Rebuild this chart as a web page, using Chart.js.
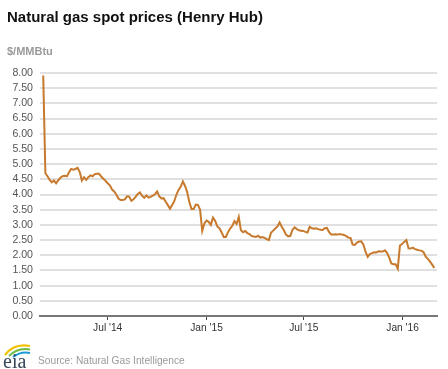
<!DOCTYPE html>
<html>
<head>
<meta charset="utf-8">
<script src="https://cdn.jsdelivr.net/npm/chart.js@4.4.1/dist/chart.umd.min.js"></script>
<style>
  body { margin: 0; background: #fff; }
  #wrap { position: relative; width: 448px; height: 369px; font-family: 'Liberation Sans', Arial, sans-serif; }
  #chart { position: absolute; left: 0; top: 0; }
  .txt { position: absolute; white-space: nowrap; }
</style>
</head>
<body>
<div id="wrap">
  <canvas id="chart" width="448" height="369"></canvas>
  <div class="txt" style="left:7px;top:8px;font-size:15px;line-height:17px;font-weight:bold;color:#111">Natural gas spot prices (Henry Hub)</div>
  <div class="txt" style="left:7px;top:45px;font-size:11px;line-height:13px;font-weight:bold;color:#9a9a9a">$/MMBtu</div>
  <svg class="txt" style="left:1px;top:340px" width="32" height="30" viewBox="0 0 32 30">
    <path d="M4 15 Q13 3 29 6" fill="none" stroke="#f2c200" stroke-width="2.2"/>
    <path d="M8 16 Q17 7 29 9.5" fill="none" stroke="#6dbb45" stroke-width="2"/>
    <path d="M12 17 Q20 11 29 13" fill="none" stroke="#1d9ad6" stroke-width="2"/>
    <text x="2" y="28" font-family="'Liberation Serif', 'DejaVu Serif', serif" font-size="20" fill="#37475a">eia</text>
  </svg>
  <div class="txt" style="left:38px;top:355px;font-size:10.2px;line-height:12px;color:#9a9a9a">Source: Natural Gas Intelligence</div>
</div>
<script>
// Henry Hub spot price, $/MMBtu, one reading every 4 days from the start date
const startDate = '2014-03-03';
const stepDays = 4;
const prices = [
  7.92, 4.70, 4.60, 4.48, 4.40, 4.46, 4.37, 4.47, 4.55, 4.60,
  4.62, 4.60, 4.73, 4.84, 4.82, 4.84, 4.88, 4.74, 4.46, 4.57,
  4.48, 4.57, 4.63, 4.60, 4.67, 4.68, 4.68, 4.59, 4.52, 4.45,
  4.37, 4.30, 4.17, 4.10, 4.00, 3.87, 3.82, 3.82, 3.84, 3.94,
  3.93, 3.79, 3.84, 3.92, 4.02, 4.07, 3.96, 3.89, 3.97, 3.90,
  3.92, 3.96, 4.01, 4.10, 3.94, 3.87, 3.88, 3.76, 3.65, 3.53,
  3.65, 3.78, 4.00, 4.15, 4.26, 4.43, 4.28, 4.08, 3.75, 3.52,
  3.52, 3.67, 3.66, 3.50, 2.80, 3.05, 3.14, 3.10, 3.00, 3.24,
  3.14, 2.95, 2.89, 2.76, 2.60, 2.60, 2.76, 2.88, 2.97, 3.12,
  3.03, 3.26, 2.82, 2.76, 2.80, 2.73, 2.70, 2.63, 2.62, 2.60,
  2.64, 2.58, 2.60, 2.57, 2.53, 2.50, 2.74, 2.81, 2.88, 2.95,
  3.08, 2.94, 2.82, 2.68, 2.62, 2.64, 2.84, 2.92, 2.86, 2.82,
  2.81, 2.80, 2.77, 2.75, 2.94, 2.89, 2.87, 2.89, 2.86, 2.84,
  2.83, 2.89, 2.90, 2.77, 2.68, 2.68, 2.69, 2.68, 2.70, 2.68,
  2.67, 2.63, 2.58, 2.57, 2.35, 2.34, 2.42, 2.45, 2.46, 2.35,
  2.12, 1.95, 2.04, 2.07, 2.10, 2.09, 2.13, 2.12, 2.12, 2.16,
  2.08, 1.92, 1.73, 1.70, 1.70, 1.56, 2.32, 2.37, 2.44, 2.50,
  2.23, 2.22, 2.25, 2.20, 2.18, 2.16, 2.15, 2.10, 1.95, 1.88,
  1.79, 1.69, 1.58
];

const tickDates = ['2014-07-01', '2015-01-01', '2015-07-01', '2016-01-01'];
const tickLabels = ["Jul '14", "Jan '15", "Jul '15", "Jan '16"];

const dayOf = s => Date.parse(s + 'T00:00:00Z') / 86400000;

const first = dayOf(startDate);
const points = prices.map((v, i) => ({ x: first + i * stepDays, y: v }));
const last = points[points.length - 1].x;

Chart.defaults.font.family = "'Liberation Sans', Arial, sans-serif";

new Chart(document.getElementById('chart').getContext('2d'), {
  type: 'line',
  data: {
    datasets: [{
      data: points,
      borderColor: '#c77a2d',
      borderWidth: 2,
      pointRadius: 0,
      tension: 0,
      fill: false
    }]
  },
  options: {
    responsive: false,
    animation: false,
    layout: { padding: { left: 0, right: 11, top: 73, bottom: 33 } },
    plugins: { legend: { display: false }, tooltip: { enabled: false } },
    scales: {
      x: {
        type: 'linear',
        min: first - 6,
        max: last + 5,
        afterBuildTicks: s => { s.ticks = tickDates.map(d => ({ value: dayOf(d) })); },
        afterFit: s => { s.height = 20; },
        ticks: {
          callback: (v, i) => tickLabels[i],
          color: '#333',
          font: { size: 10.2 },
          padding: 2,
          maxRotation: 0,
          autoSkip: false
        },
        grid: { drawOnChartArea: false, drawTicks: true, tickLength: 4, color: '#444', lineWidth: 1 },
        border: { display: true, color: '#777', width: 2 }
      },
      y: {
        min: 0,
        max: 8,
        afterFit: s => { s.width = 40; },
        ticks: {
          stepSize: 0.5,
          autoSkip: false,
          callback: v => v.toFixed(2),
          color: '#555',
          font: { size: 10.6 },
          padding: 7
        },
        grid: { color: '#e0e0e0', lineWidth: 2, drawTicks: false },
        border: { display: false }
      }
    }
  }
});
</script>
</body>
</html>
